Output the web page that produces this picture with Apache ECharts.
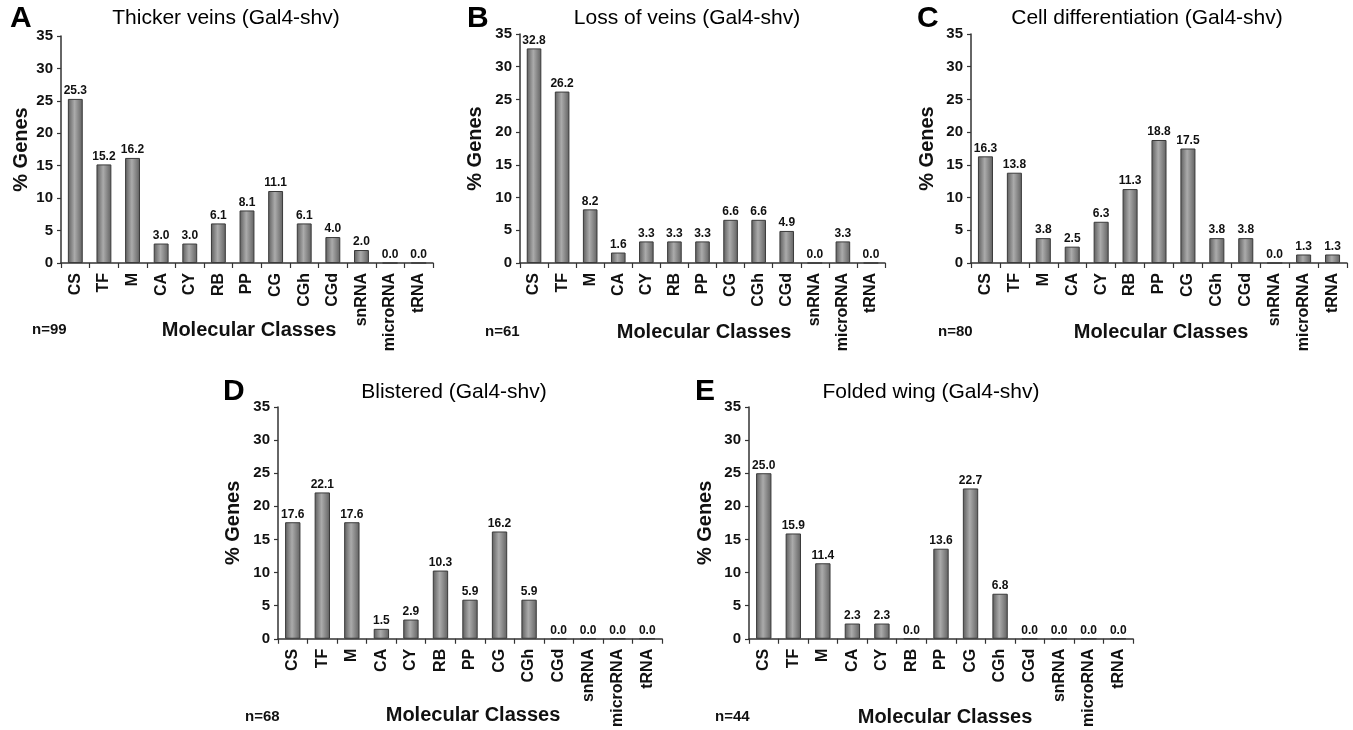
<!DOCTYPE html>
<html>
<head>
<meta charset="utf-8">
<script src="https://cdn.jsdelivr.net/npm/echarts@6/dist/echarts.min.js"></script>
<style>
  html, body { margin: 0; padding: 0; background: #fff; }
  #chart { width: 1353px; height: 730px; }
</style>
</head>
<body>
<div id="chart"></div>
<script>
// molecular classes, same for every panel
var categories = ['CS', 'TF', 'M', 'CA', 'CY', 'RB', 'PP', 'CG', 'CGh', 'CGd', 'snRNA', 'microRNA', 'tRNA'];

// % genes per class
var thickerVeins = [25.3, 15.2, 16.2, 3.0, 3.0, 6.1, 8.1, 11.1, 6.1, 4.0, 2.0, 0.0, 0.0];
var lossOfVeins = [32.8, 26.2, 8.2, 1.6, 3.3, 3.3, 3.3, 6.6, 6.6, 4.9, 0.0, 3.3, 0.0];
var cellDifferentiation = [16.3, 13.8, 3.8, 2.5, 6.3, 11.3, 18.8, 17.5, 3.8, 3.8, 0.0, 1.3, 1.3];
var blistered = [17.6, 22.1, 17.6, 1.5, 2.9, 10.3, 5.9, 16.2, 5.9, 0.0, 0.0, 0.0, 0.0];
var foldedWing = [25.0, 15.9, 11.4, 2.3, 2.3, 0.0, 13.6, 22.7, 6.8, 0.0, 0.0, 0.0, 0.0];

var panelLetters = ['A', 'B', 'C', 'D', 'E'];
var panelTitles = ['Thicker veins (Gal4-shv)', 'Loss of veins (Gal4-shv)', 'Cell differentiation (Gal4-shv)',
  'Blistered (Gal4-shv)', 'Folded wing (Gal4-shv)'];
var sampleSizes = [99, 61, 80, 68, 44];
var yMin = 0, yMax = 35, yStep = 5;

var seriesData = [thickerVeins, lossOfVeins, cellDifferentiation, blistered, foldedWing];

// layout of each panel (pixels)
var layout = [
  { left: 61, top: 36, width: 372, height: 227, titleX: 226, titleY: 18, letterX: 10, letterY: 19, nX: 32, nY: 330, xnX: 249, xnY: 330, yNameGap: 30 },
  { left: 520, top: 34, width: 365, height: 229, titleX: 687, titleY: 18, letterX: 467, letterY: 19, nX: 485, nY: 332, xnX: 704, xnY: 332, yNameGap: 35 },
  { left: 971, top: 34, width: 376, height: 229, titleX: 1147, titleY: 18, letterX: 917, letterY: 19, nX: 938, nY: 332, xnX: 1161, xnY: 332, yNameGap: 34 },
  { left: 278, top: 407, width: 384, height: 236, titleX: 454, titleY: 392, letterX: 223, letterY: 392, nX: 245, nY: 717, xnX: 473, xnY: 715, yNameGap: 35 },
  { left: 749, top: 407, width: 384, height: 236, titleX: 931, titleY: 392, letterX: 695, letterY: 392, nX: 715, nY: 717, xnX: 945, xnY: 717, yNameGap: 34 }
];

var FONT = '"Liberation Sans", Arial, sans-serif';

var barFill = new echarts.graphic.LinearGradient(0, 0, 1, 0, [
  { offset: 0, color: '#5c5c5c' },
  { offset: 0.45, color: '#ababab' },
  { offset: 1, color: '#606060' }
]);

var grids = [], xAxes = [], yAxes = [], series = [], graphics = [];

layout.forEach(function (p, i) {
  grids.push({ left: p.left, top: p.top, width: p.width, height: p.height, containLabel: false });

  xAxes.push({
    type: 'category',
    gridIndex: i,
    data: categories,
    axisLine: { lineStyle: { color: '#333', width: 1.5 } },
    axisTick: { show: true, alignWithLabel: false, inside: false, length: 5, lineStyle: { color: '#333', width: 1.2 } },
    axisLabel: { rotate: 90, interval: 0, margin: 10, fontFamily: FONT, fontSize: 16, fontWeight: 'bold', color: '#111' }
  });

  yAxes.push({
    type: 'value',
    gridIndex: i,
    min: yMin,
    max: yMax,
    interval: yStep,
    name: '% Genes',
    nameLocation: 'middle',
    nameGap: p.yNameGap,
    nameRotate: 90,
    nameTextStyle: { fontFamily: FONT, fontSize: 20, fontWeight: 'bold', color: '#111' },
    splitLine: { show: false },
    axisLine: { show: true, lineStyle: { color: '#333', width: 1.5 } },
    axisTick: { show: true, inside: false, length: 4, lineStyle: { color: '#333', width: 1.2 } },
    axisLabel: { margin: 8, fontFamily: FONT, fontSize: 15, fontWeight: 'bold', color: '#111' }
  });

  series.push({
    type: 'bar',
    xAxisIndex: i,
    yAxisIndex: i,
    data: seriesData[i],
    barWidth: '52%',
    itemStyle: { color: barFill, borderColor: '#3a3a3a', borderWidth: 1 },
    label: {
      show: true,
      position: 'top',
      distance: 2,
      fontFamily: FONT,
      fontSize: 12,
      fontWeight: 'bold',
      color: '#111',
      formatter: function (d) { return d.value.toFixed(1); }
    },
    silent: true,
    animation: false
  });

  graphics.push({
    type: 'text', x: p.letterX, y: p.letterY,
    style: { text: panelLetters[i], fontFamily: FONT, fontSize: 30, fontWeight: 'bold', fill: '#000', textAlign: 'left', textVerticalAlign: 'middle' }
  });
  graphics.push({
    type: 'text', x: p.titleX, y: p.titleY,
    style: { text: panelTitles[i], fontFamily: FONT, fontSize: 21, fill: '#000', textAlign: 'center', textVerticalAlign: 'middle' }
  });
  graphics.push({
    type: 'text', x: p.xnX, y: p.xnY,
    style: { text: 'Molecular Classes', fontFamily: FONT, fontSize: 20, fontWeight: 'bold', fill: '#111', textAlign: 'center', textVerticalAlign: 'middle' }
  });
  graphics.push({
    type: 'text', x: p.nX, y: p.nY,
    style: { text: 'n=' + sampleSizes[i], fontFamily: FONT, fontSize: 15, fontWeight: 'bold', fill: '#111', textAlign: 'left', textVerticalAlign: 'middle' }
  });
});

var chart = echarts.init(document.getElementById('chart'), null, { renderer: 'canvas' });
chart.setOption({
  backgroundColor: '#ffffff',
  animation: false,
  grid: grids,
  xAxis: xAxes,
  yAxis: yAxes,
  series: series,
  graphic: graphics
});
</script>
</body>
</html>
